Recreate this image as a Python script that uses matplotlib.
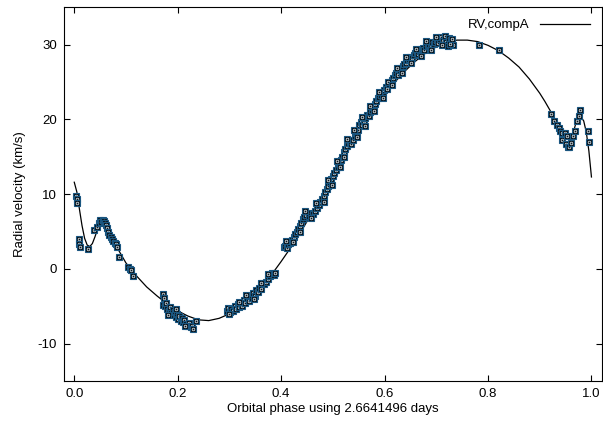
"""Radial velocity curve of compA folded on the orbital period."""

import matplotlib as mpl
import matplotlib.pyplot as plt

mpl.rcParams.update(
    {
        "font.family": ["Liberation Sans", "DejaVu Sans"],
        "font.size": 9.5,
        "axes.linewidth": 0.8,
        "axes.unicode_minus": False,
    }
)

# model curve
model_phase = [
    0.000, 0.005, 0.010, 0.015, 0.020, 0.025, 0.030, 0.035, 0.040, 0.045,
    0.050, 0.055, 0.060, 0.070, 0.080, 0.090, 0.100, 0.120, 0.140, 0.160,
    0.180, 0.200, 0.220, 0.240, 0.260, 0.280, 0.300, 0.320, 0.340, 0.360,
    0.380, 0.400, 0.420, 0.440, 0.460, 0.480, 0.500, 0.520, 0.540, 0.560,
    0.580, 0.600, 0.620, 0.640, 0.660, 0.680, 0.700, 0.720, 0.740, 0.760,
    0.780, 0.800, 0.820, 0.840, 0.860, 0.880, 0.900, 0.910, 0.920, 0.930,
    0.940, 0.950, 0.955, 0.960, 0.965, 0.970, 0.975, 0.980, 0.985, 0.990,
    0.995, 1.000,
]
model_rv = [
    11.6, 10.3, 8.0, 5.8, 4.1, 3.2, 3.0, 3.4, 4.3, 5.3,
    6.0, 6.2, 5.8, 4.5, 3.2, 2.0, 0.8, -0.9, -2.4, -3.6,
    -4.7, -5.6, -6.3, -6.8, -6.9, -6.6, -6.0, -5.1, -3.9, -2.5,
    -0.9, 1.0, 3.0, 5.2, 7.5, 9.9, 12.3, 14.7, 17.0, 19.3,
    21.4, 23.3, 25.0, 26.5, 27.8, 28.9, 29.7, 30.3, 30.6, 30.6,
    30.4, 29.9, 29.2, 28.2, 27.0, 25.4, 23.5, 22.4, 21.2, 19.9,
    18.4, 16.9, 16.5, 17.0, 18.3, 19.5, 20.2, 20.3, 19.8, 18.3,
    15.8, 12.3,
]

# observations: start of the orbit
obs_phase_a = [
    0.003, 0.005, 0.005, 0.010, 0.010, 0.011, 0.027, 0.039, 0.043, 0.047,
    0.050, 0.052, 0.055, 0.058, 0.060, 0.062, 0.064, 0.066, 0.068, 0.071,
    0.073, 0.075, 0.078, 0.081, 0.083, 0.086, 0.104, 0.107, 0.110, 0.113,
]
obs_rv_a = [
    9.7, 9.3, 8.8, 4.0, 3.4, 3.0, 2.7, 5.2, 5.6, 6.1,
    6.6, 6.3, 6.6, 6.4, 6.2, 5.9, 5.5, 5.0, 4.6, 4.3,
    4.0, 3.8, 3.5, 3.3, 2.9, 1.6, 0.3, 0.0, -0.2, -0.9,
]

# observations around the RV minimum
obs_phase_b = [
    0.171, 0.173, 0.172, 0.176, 0.178, 0.180, 0.183, 0.185, 0.187, 0.190,
    0.192, 0.194, 0.196, 0.199, 0.201, 0.203, 0.206, 0.208, 0.211, 0.213,
    0.216, 0.219, 0.222, 0.225, 0.228, 0.230, 0.235, 0.182, 0.197, 0.214,
]
obs_rv_b = [
    -3.3, -3.9, -4.8, -5.0, -4.6, -5.3, -5.6, -5.1, -5.9, -5.5,
    -6.1, -5.8, -6.4, -6.0, -6.7, -6.3, -6.9, -6.5, -7.1, -6.8,
    -7.3, -7.6, -7.2, -7.8, -7.6, -8.0, -6.9, -6.2, -5.3, -7.6,
]

# observations on the rising branch
obs_phase_c = [
    0.296, 0.298, 0.301, 0.304, 0.307, 0.310, 0.313, 0.316, 0.319, 0.322,
    0.325, 0.328, 0.331, 0.334, 0.337, 0.340, 0.343, 0.346, 0.349, 0.352,
    0.355, 0.358, 0.362, 0.366, 0.370, 0.374, 0.378, 0.382, 0.386, 0.389,
    0.405, 0.408, 0.411, 0.414, 0.418, 0.421, 0.424, 0.427, 0.430, 0.433,
    0.436, 0.439, 0.442, 0.445, 0.449, 0.453, 0.457, 0.461, 0.465, 0.469,
    0.473, 0.476, 0.479, 0.482, 0.485, 0.488, 0.491, 0.494, 0.497, 0.500,
    0.503, 0.506, 0.509, 0.512, 0.515, 0.518, 0.521, 0.524, 0.527, 0.530,
    0.533, 0.536, 0.539, 0.542, 0.545, 0.548, 0.551, 0.554, 0.557, 0.560,
    0.563, 0.566, 0.569, 0.572, 0.575, 0.578, 0.581, 0.584, 0.587, 0.590,
    0.593, 0.596, 0.599, 0.602, 0.605, 0.608, 0.611, 0.614, 0.617, 0.620,
    0.623, 0.626, 0.629, 0.632, 0.635, 0.638, 0.641, 0.644, 0.647, 0.650,
    0.653, 0.656, 0.659, 0.662, 0.665, 0.668, 0.671, 0.674, 0.677, 0.680,
    0.683, 0.686, 0.689, 0.692, 0.695, 0.698, 0.701, 0.704, 0.707, 0.710,
    0.713, 0.716, 0.719, 0.722, 0.725, 0.729, 0.732,
]
obs_rv_c = [
    -5.6, -5.2, -5.8, -5.3, -5.6, -5.0, -5.4, -4.7, -5.1, -4.5,
    -4.9, -4.2, -4.6, -3.9, -4.3, -3.6, -3.9, -3.2, -3.6, -2.8,
    -3.1, -2.5, -2.7, -2.0, -1.7, -1.3, -1.0, -0.6, -0.8, -0.5,
    2.9, 3.1, 2.8, 3.3, 3.5, 3.9, 4.3, 4.7, 5.0, 5.3,
    5.7, 6.2, 6.7, 7.0, 7.2, 7.1, 7.5, 7.4, 7.8, 8.1,
    8.5, 8.9, 9.4, 9.8, 10.3, 10.7, 11.1, 11.6, 12.0, 12.4,
    12.9, 13.3, 13.7, 14.2, 14.6, 15.0, 15.6, 16.0, 16.5, 16.8,
    17.0, 16.7, 17.3, 17.8, 18.2, 18.6, 19.3, 19.6, 19.2, 19.8,
    20.2, 20.6, 20.4, 21.0, 21.3, 21.7, 22.0, 22.4, 22.8, 23.0,
    23.2, 23.6, 23.9, 24.3, 24.1, 24.7, 25.0, 25.3, 25.5, 25.9,
    26.2, 26.0, 26.6, 26.9, 27.1, 27.4, 27.6, 27.9, 28.1, 28.4,
    28.2, 28.6, 28.9, 29.0, 28.7, 29.2, 29.4, 29.6, 29.3, 29.8,
    29.9, 30.1, 29.8, 30.3, 30.1, 30.4, 30.6, 30.2, 30.8, 31.0,
    30.5, 31.1, 30.3, 29.8, 30.9, 30.6, 29.9,
]

# scattered points along the rising branch
obs_phase_e = [
    0.300, 0.318, 0.333, 0.347, 0.361, 0.375, 0.410, 0.423, 0.436, 0.447,
    0.458, 0.468, 0.482, 0.490, 0.498, 0.508, 0.514, 0.522, 0.528, 0.541,
    0.547, 0.556, 0.562, 0.571, 0.580, 0.589, 0.597, 0.606, 0.615, 0.624,
    0.633, 0.642, 0.651, 0.660, 0.670, 0.680, 0.690, 0.700, 0.712, 0.726,
    0.730,
]
obs_rv_e = [
    -6.0, -4.4, -3.5, -4.0, -1.9, -0.7, 3.7, 3.6, 5.0, 7.8,
    6.8, 8.8, 9.0, 11.9, 11.2, 14.4, 13.6, 15.0, 17.4, 18.6,
    17.6, 20.3, 19.1, 21.8, 21.1, 23.6, 22.9, 25.0, 24.6, 26.9,
    26.2, 28.3, 27.6, 29.4, 28.5, 30.5, 29.3, 31.0, 29.9, 30.1,
    30.8,
]

# observations past the maximum
obs_phase_d = [
    0.783, 0.822, 0.922, 0.928, 0.933, 0.937, 0.939, 0.943, 0.948, 0.944,
    0.952, 0.951, 0.954, 0.957, 0.961, 0.965, 0.968, 0.972, 0.975, 0.977,
    0.993, 0.995,
]
obs_rv_d = [
    30.0, 29.3, 20.7, 19.8, 19.2, 18.9, 18.4, 18.2, 18.2, 17.3,
    17.8, 16.7, 16.3, 16.3, 16.9, 17.8, 18.4, 19.8, 20.5, 21.2,
    18.4, 17.0,
]

phase = obs_phase_a + obs_phase_b + obs_phase_c + obs_phase_e + obs_phase_d
rv = obs_rv_a + obs_rv_b + obs_rv_c + obs_rv_e + obs_rv_d

x_ticks = [0.0, 0.2, 0.4, 0.6, 0.8, 1.0]
y_ticks = [-10, 0, 10, 20, 30]

fig = plt.figure(figsize=(6.03, 4.24), dpi=100)
ax = fig.add_axes([0.106, 0.101, 0.892, 0.882])

(curve,) = ax.plot(model_phase, model_rv, color="black", lw=0.9, zorder=2)

# each point: dark square with a small white ring, drawn in order
z = 3
for p, v in zip(phase, rv):
    ax.plot(p, v, marker="s", ms=4.8, mfc="#08141d", mec="#1a5680", mew=0.8,
            ls="none", zorder=z)
    ax.plot(p, v, marker="o", ms=1.9, mfc="#08141d", mec="#e8eef2", mew=0.5,
            ls="none", zorder=z + 0.5)
    z += 1

ax.set_xlim(-0.02, 1.02)
ax.set_ylim(-15, 35)
ax.set_xticks(x_ticks)
ax.set_xticklabels([f"{t:.1f}" for t in x_ticks])
ax.set_yticks(y_ticks)
ax.tick_params(direction="in", length=4, width=0.8, top=True, right=True,
               labelsize=9.5, pad=5)

ax.set_xlabel("Orbital phase using 2.6641496 days", fontsize=9.5, labelpad=2)
ax.set_ylabel("Radial velocity (km/s)", fontsize=9.5, labelpad=8)

ax.legend([curve], ["RV,compA"], loc="upper right", frameon=False,
          markerfirst=False, handlelength=3.8, fontsize=9.5,
          borderaxespad=0.5, handletextpad=0.8)

fig.savefig("out.png", dpi=100, facecolor="white")
